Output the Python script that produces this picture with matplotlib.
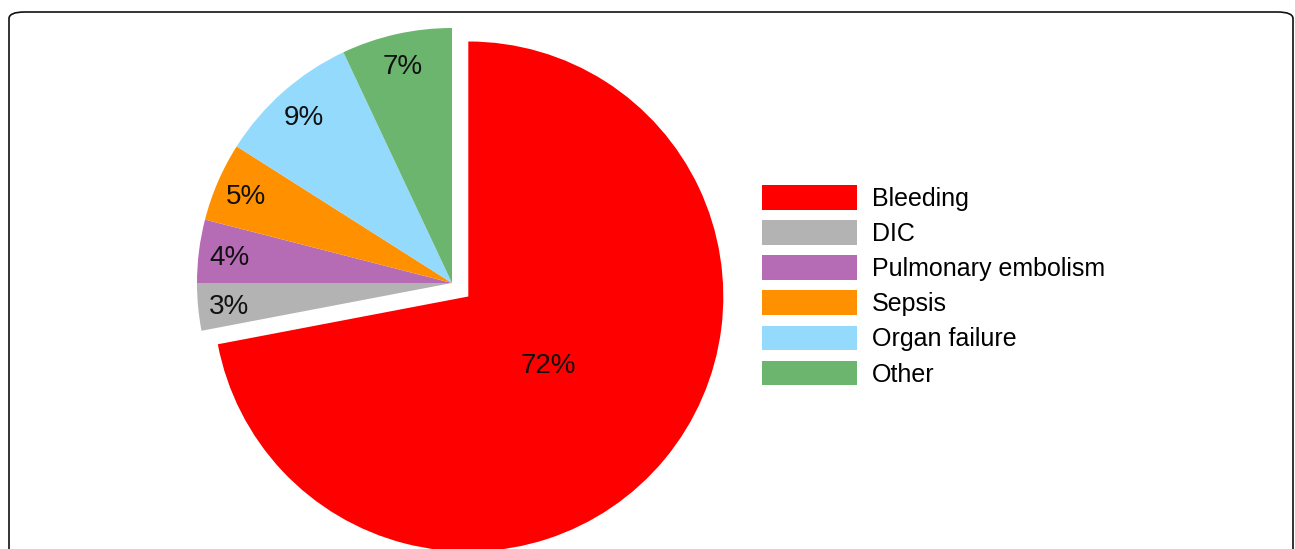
#!/usr/bin/env python3

import numpy as np
import matplotlib
matplotlib.use("Agg")
import matplotlib.pyplot as plt
from matplotlib.patches import FancyBboxPatch, Patch

plt.rcParams['font.family'] = ['Liberation Sans', 'DejaVu Sans']

causes = ["Bleeding", "DIC", "Pulmonary embolism", "Sepsis", "Organ failure", "Other"]
shares = [72, 3, 4, 5, 9, 7]
colors = ["#ff0000", "#b3b3b3", "#b66cb4", "#ff9000", "#93dafc", "#6bb56e"]

W, H = 1295, 549
R = 255.0          # pie radius in pixels
cx, cy = 452, 283  # pie centre in pixels (from top)

fig = plt.figure(figsize=(W / 100, H / 100), dpi=100)

# rounded frame round the whole picture, open at the bottom
frame = FancyBboxPatch((9 / W, -20 / H), (1293 - 9) / W, (H - 12 + 20) / H,
                       boxstyle="round,pad=0,rounding_size=0.012",
                       transform=fig.transFigure, facecolor="none",
                       edgecolor="#111111", linewidth=1.2, zorder=5)
fig.patches.append(frame)

ax = fig.add_axes([0, 0, 1, 1])
ax.patch.set_alpha(0)
wedges, texts, autotexts = ax.pie(shares, colors=colors, startangle=90,
                                  counterclock=False,
                                  explode=[0.083, 0, 0, 0, 0, 0],
                                  autopct="%d%%", pctdistance=0.88,
                                  textprops={"fontsize": 20, "color": "#111111"})

# the big slice has its label nearer the middle
w = wedges[0]
mid = np.deg2rad((w.theta1 + w.theta2) / 2)
autotexts[0].set_position((w.center[0] + 0.41 * np.cos(mid),
                           w.center[1] + 0.41 * np.sin(mid)))
# nudge all labels a few pixels down
for t in autotexts:
    x, y = t.get_position()
    t.set_position((x, y - 3 / R))

ax.set_aspect("auto")
ax.set_xlim(-cx / R, (W - cx) / R)
ax.set_ylim(-(H - cy) / R, cy / R)
ax.axis("off")

handles = [Patch(facecolor=c, edgecolor="none") for c in colors]
fig.legend(handles, causes, loc="upper left",
           bbox_to_anchor=(752 / W, 1 - 175 / H), frameon=False,
           fontsize=18, handlelength=3.8, handleheight=1.15,
           handletextpad=0.6, labelspacing=0.37, borderaxespad=0)

fig.savefig("out.png", dpi=100)
